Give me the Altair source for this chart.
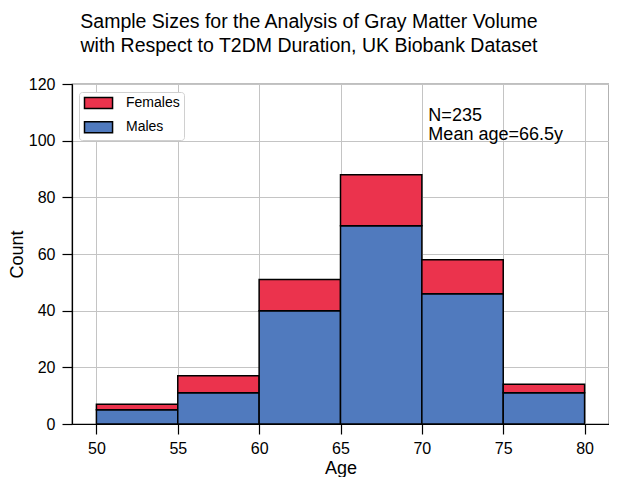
import altair as alt
import pandas as pd

bin_start = [50, 55, 60, 65, 70, 75]
bin_end = [55, 60, 65, 70, 75, 80]
males = [5, 11, 40, 70, 46, 11]
females = [2, 6, 11, 18, 12, 3]
x_ticks = [50, 55, 60, 65, 70, 75, 80]
y_ticks = [0, 20, 40, 60, 80, 100, 120]
sexes = ["Females", "Males"]
colors = ["#EB334D", "#507ABE"]
title_lines = ["Sample Sizes for the Analysis of Gray Matter Volume",
               "with Respect to T2DM Duration, UK Biobank Dataset"]
note_lines = ["N=235", "Mean age=66.5y"]
note_x = [70.4]
note_y = [107.0]

rows = []
for s, e, m, f in zip(bin_start, bin_end, males, females):
    rows.append({"start": s, "end": e, "sex": "Males", "low": 0, "high": m})
    rows.append({"start": s, "end": e, "sex": "Females", "low": m, "high": m + f})
df = pd.DataFrame(rows)
note_df = pd.DataFrame({"x": note_x, "y": note_y})

FONT = "Liberation Sans"

xscale = alt.Scale(domain=[48.5, 81.5], nice=False, zero=False)
yscale = alt.Scale(domain=[0, 120], nice=False)

bars = alt.Chart(df).mark_bar(stroke="black", strokeWidth=1.5, opacity=1).encode(
    x=alt.X("start:Q", scale=xscale,
            axis=alt.Axis(values=x_ticks, title="Age", titleX=268.5, titleY=49,
                          titleBaseline="alphabetic", labelPadding=6)),
    x2="end:Q",
    y=alt.Y("low:Q", scale=yscale,
            axis=alt.Axis(values=y_ticks, title="Count", titleX=-50, titleY=170,
                          titleBaseline="alphabetic", labelPadding=7)),
    y2="high:Q",
    color=alt.Color("sex:N", scale=alt.Scale(domain=sexes, range=colors),
                    legend=alt.Legend(title=None, orient="none", legendX=7, legendY=8,
                                      symbolType="M-1,-1H4.1V1H-1Z", symbolSize=121,
                                      symbolStrokeColor="black", symbolStrokeWidth=1.5,
                                      labelFontSize=14, labelOffset=29, rowPadding=6.3,
                                      padding=4, strokeColor="#d0d0d0", fillColor="white",
                                      cornerRadius=3, labelFont=FONT, labelColor="black")),
)

note = alt.Chart(note_df).mark_text(
    text=note_lines, align="left", baseline="alphabetic", fontSize=18,
    lineHeight=19, font=FONT, color="black"
).encode(
    x=alt.X("x:Q", scale=xscale),
    y=alt.Y("y:Q", scale=yscale),
)

chart = alt.layer(bars, note).properties(
    width=537, height=340,
    background="white",
    autosize=alt.AutoSizeParams(type="none"),
    padding={"left": 64, "top": 76, "right": 0, "bottom": 53},
    title=alt.TitleParams(text=title_lines, fontSize=19.5, font=FONT, fontWeight="normal",
                          color="black", anchor="middle", dx=-31.5, offset=1,
                          lineHeight=24, baseline="bottom"),
).configure_view(
    stroke="black", strokeWidth=1.2, fill="white"
).configure_axis(
    grid=True, gridColor="#c4c4c4", gridWidth=1, domainColor="black", domainWidth=1.2,
    tickColor="black", tickSize=10, tickWidth=1.2, labelFontSize=16, labelFont=FONT,
    labelColor="black", titleFontSize=18, titleFont=FONT, titleFontWeight="normal",
    titleColor="black"
)

chart.save("out.html", embed_options={"renderer": "svg", "actions": False})
